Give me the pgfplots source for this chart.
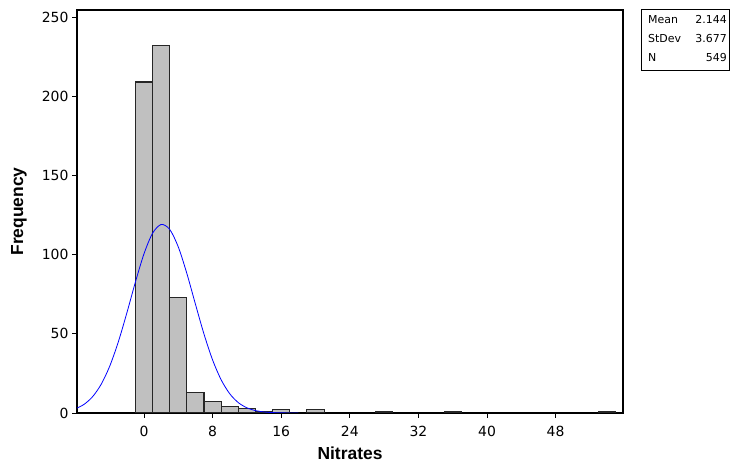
\documentclass[border=0pt]{standalone}
\usepackage{pgfplots}
\pgfplotsset{compat=1.18}
\usepackage{fontspec}
\setmainfont{DejaVu Sans}
\newfontfamily\labfont{Liberation Sans}
\definecolor{bargray}{RGB}{192,192,192}
\begin{document}
\begin{tikzpicture}[x=1bp,y=1bp]
\useasboundingbox (0,0) rectangle (730,466);
\begin{axis}[
  at={(77bp,53bp)}, anchor=south west, scale only axis,
  width=546bp, height=403bp,
  xmin=-7.81, xmax=55.86, ymin=0, ymax=254.5,
  xtick={0,8,...,48}, ytick={0,50,...,250},
  tick align=outside, tick pos=left, major tick length=5bp,
  axis line style={line width=1.1bp},
  every tick/.style={black, line width=0.8bp},
  /pgf/number format/assume math mode=true,
  ticklabel style={font=\fontsize{14}{16}\selectfont},
  xticklabel style={yshift=-5bp},
  xlabel={\labfont\bfseries Nitrates}, ylabel={\labfont\bfseries Frequency},
  label style={font=\fontsize{17.5}{20}\selectfont},
  xlabel style={at={(axis description cs:0.5,0)}, anchor=base, yshift=-47bp},
  ylabel style={at={(axis description cs:0,0.5)}, anchor=base, rotate=0, yshift=54bp},
  clip=true,
]
\addplot[ybar, bar width=2, bar shift=0pt, fill=bargray, draw=black!85, line width=1.1bp]
coordinates {(0,209) (2,232) (4,73) (6,13) (8,7) (10,4) (12,3) (14,1) (16,2) (20,2) (28,1) (36,1) (54,1)};
\addplot[blue, line width=0.8bp, smooth] coordinates {
(-8,2.65) (-7,5.41) (-6,10.25) (-5,18.04) (-4,29.49) (-3,44.78) (-2,63.13) (-1,82.66)
(0,100.51) (1,113.50) (2,119.04) (3,115.94) (4,104.88) (5,88.11) (6,68.74)
(7,49.81) (8,33.52) (9,20.95) (10,12.16) (11,6.55) (12,3.28) (13,1.52) (14,0.66)
(15,0.26) (16,0.10) (17,0.03) (18,0.01)};
\end{axis}
\draw[line width=0.8bp] (641,457) rectangle (729,396);
\begin{scope}[every node/.style={font=\fontsize{11}{13}\selectfont, inner sep=0pt}]
\node[anchor=base west] at (648,442) {Mean};
\node[anchor=base west] at (648,423) {StDev};
\node[anchor=base west] at (648,404) {N};
\node[anchor=base east] at (727,442) {2.144};
\node[anchor=base east] at (727,423) {3.677};
\node[anchor=base east] at (727,404) {549};
\end{scope}
\end{tikzpicture}
\end{document}
